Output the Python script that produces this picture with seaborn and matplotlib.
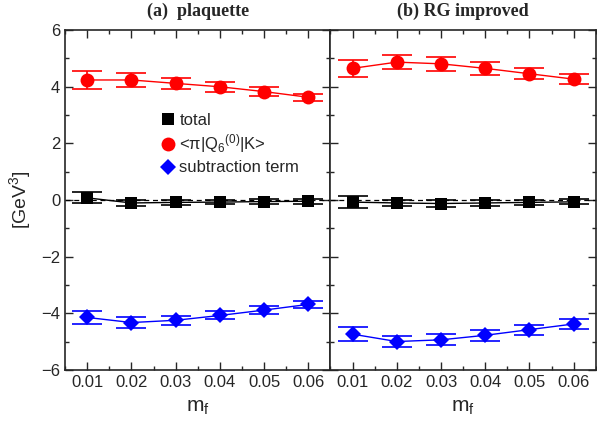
import numpy as np
import pandas as pd
import seaborn as sns
import matplotlib.pyplot as plt
from matplotlib.ticker import MultipleLocator

mf = [0.01, 0.02, 0.03, 0.04, 0.05, 0.06]

# (a) plaquette
a_total = [0.08, -0.10, -0.08, -0.07, -0.05, -0.04]
a_total_err = [0.19, 0.10, 0.09, 0.08, 0.08, 0.08]
a_q6 = [4.24, 4.24, 4.12, 4.00, 3.83, 3.63]
a_q6_err = [0.32, 0.25, 0.20, 0.17, 0.15, 0.12]
a_sub = [-4.14, -4.32, -4.24, -4.07, -3.88, -3.68]
a_sub_err = [0.22, 0.18, 0.15, 0.14, 0.13, 0.12]

# (b) RG improved
b_total = [-0.07, -0.10, -0.12, -0.10, -0.08, -0.06]
b_total_err = [0.20, 0.12, 0.12, 0.11, 0.10, 0.09]
b_q6 = [4.65, 4.87, 4.81, 4.65, 4.46, 4.27]
b_q6_err = [0.30, 0.26, 0.25, 0.22, 0.19, 0.18]
b_sub = [-4.73, -4.99, -4.93, -4.77, -4.57, -4.37]
b_sub_err = [0.24, 0.20, 0.20, 0.19, 0.18, 0.17]

titles = ['(a)  plaquette', '(b) RG improved']

sns.set_style('ticks')
plt.rcParams['font.family'] = ['Liberation Sans', 'DejaVu Sans']
plt.rcParams['mathtext.fontset'] = 'custom'
plt.rcParams['mathtext.rm'] = 'Liberation Sans'
plt.rcParams['mathtext.it'] = 'Liberation Sans'
plt.rcParams['axes.unicode_minus'] = True

fig, axes = plt.subplots(1, 2, figsize=(5.97, 4.24), dpi=100, sharey=True)
fig.subplots_adjust(left=0.109, right=0.998, top=0.929, bottom=0.127, wspace=0)

series = [
    ('total', 'black', 's', 8.5),
    (r'<$\pi$|Q$_6$$^{(0)}$|K>', 'red', 'o', 10),
    ('subtraction term', 'blue', 'D', 8),
]

panels = [
    [(a_total, a_total_err), (a_q6, a_q6_err), (a_sub, a_sub_err)],
    [(b_total, b_total_err), (b_q6, b_q6_err), (b_sub, b_sub_err)],
]

for ax, data, title in zip(axes, panels, titles):
    ax.axhline(0, color='black', ls=(0, (4, 3)), lw=0.9, zorder=1)
    for (vals, errs), (lab, col, mk, ms) in zip(data, series):
        df = pd.DataFrame({'mf': mf, 'val': vals})
        sns.lineplot(data=df, x='mf', y='val', ax=ax, color=col, lw=1,
                     marker=mk, markersize=ms, markeredgewidth=0,
                     label=lab, legend=False, zorder=3)
        ax.errorbar(mf, vals, yerr=errs, fmt='none', ecolor=col,
                    elinewidth=1.2, capsize=11, capthick=1.2, zorder=2)
    ax.set_xlim(0.005, 0.065)
    ax.set_ylim(-6, 6)
    ax.set_xticks(mf)
    ax.set_xticklabels(['0.01', '0.02', '0.03', '0.04', '0.05', '0.06'])
    ax.xaxis.set_minor_locator(MultipleLocator(0.005))
    ax.yaxis.set_major_locator(MultipleLocator(2))
    ax.yaxis.set_minor_locator(MultipleLocator(1))
    ax.tick_params(which='both', direction='in', top=True, right=True,
                   labelsize=12)
    ax.tick_params(which='major', length=6, width=1)
    ax.tick_params(which='minor', length=3, width=1)
    for s in ax.spines.values():
        s.set_linewidth(1.2)
    ax.set_xlabel(r'm$_\mathregular{f}$', fontsize=15, labelpad=6)
    ax.set_ylabel('')
    ax.set_title(title, fontsize=13, fontweight='bold',
                 family='Liberation Serif', pad=10)

axes[0].set_ylabel(r'[GeV$^3$]', fontsize=14, labelpad=6)
axes[1].tick_params(labelleft=False)

leg = axes[0].legend(loc='center left', bbox_to_anchor=(0.33, 0.665),
                     frameon=False, fontsize=12, handlelength=0.8,
                     handletextpad=0.3, labelspacing=0.3, borderpad=0)
for h in leg.legend_handles:
    h.set_linestyle('none')

fig.savefig('out.png', dpi=100)
